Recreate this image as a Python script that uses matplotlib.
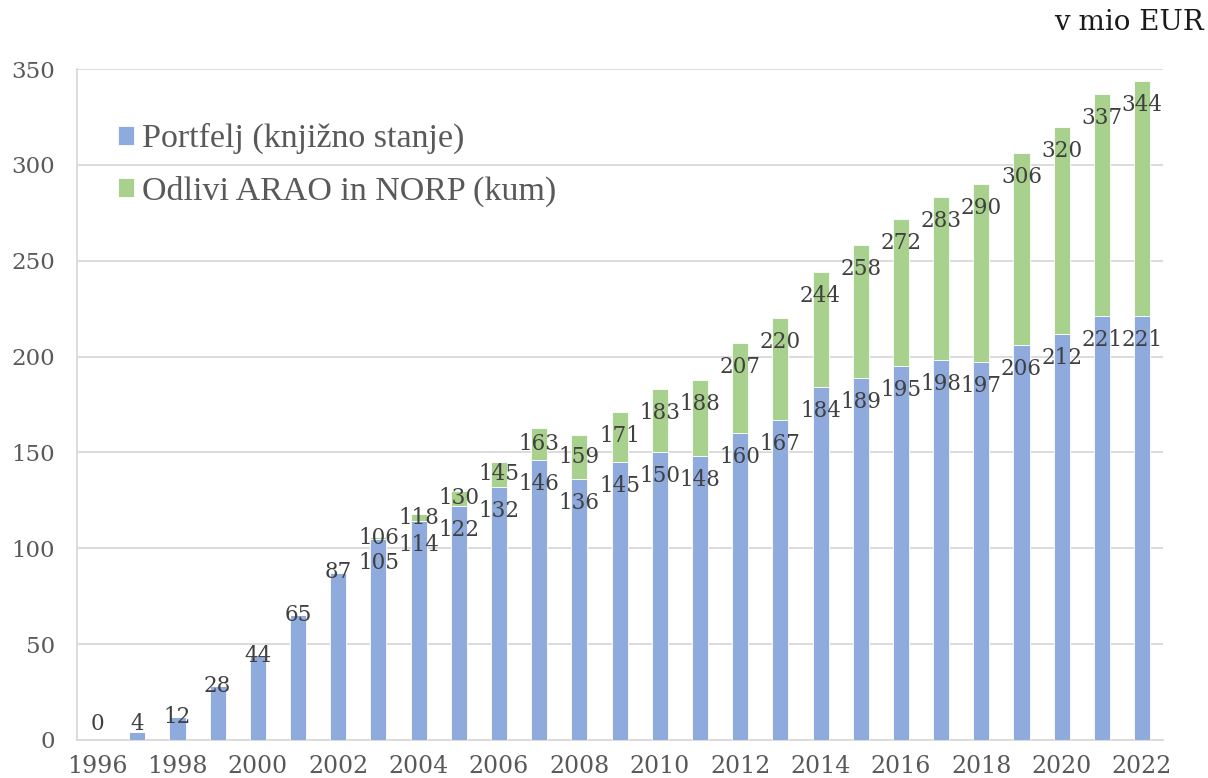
import matplotlib
matplotlib.use("Agg")
import matplotlib.pyplot as plt
import numpy as np

years = list(range(1996, 2023))
portfelj = [0, 4, 12, 28, 44, 65, 87, 105, 114, 122, 132, 146, 136, 145, 150, 148,
            160, 167, 184, 189, 195, 198, 197, 206, 212, 221, 221]
skupaj = [0, 4, 12, 28, 44, 65.3, 87.4, 106, 118, 130, 145, 163, 159, 171, 183, 188,
          207, 220, 244, 258, 272, 283, 290, 306, 320, 337, 344]
odlivi = [t - p for t, p in zip(skupaj, portfelj)]
tick_years = [str(y) for y in range(1996, 2023, 2)]
series_names = ["Portfelj (knjižno stanje)", "Odlivi ARAO in NORP (kum)"]

BLUE = "#8FAADC"
GREEN = "#A9D18E"
GRID = "#D9D9D9"
TXT = "#404040"
TICK = "#595959"

fig = plt.figure(figsize=(12.08, 7.78), dpi=100)
ax = fig.add_axes([77/1208, 1-740/778, (1163-77)/1208, (740-69)/778])

x = np.arange(len(years))
w = 0.40
b1 = ax.bar(x, portfelj, width=w, color=BLUE, edgecolor="white", linewidth=0.6, zorder=3,
            label=series_names[0])
b2 = ax.bar(x, odlivi, width=w, bottom=portfelj, color=GREEN, edgecolor="white", linewidth=0.6,
            zorder=3, label=series_names[1])

ax.set_ylim(0, 350)
ax.set_xlim(-0.5, len(years) - 0.48)
ax.set_yticks(range(0, 351, 50))
ax.yaxis.grid(True, color=GRID, linewidth=1.3, zorder=0)
ax.set_axisbelow(True)
for s in ["top", "right"]:
    ax.spines[s].set_visible(False)
ax.spines["left"].set_color(GRID)
ax.spines["left"].set_linewidth(1.3)
ax.spines["bottom"].set_color(GRID)
ax.spines["bottom"].set_linewidth(1.3)

ax.set_xticks(x[::2])
ax.set_xticklabels(tick_years)
ax.tick_params(axis="both", length=0, labelcolor=TICK)
ax.tick_params(axis="y", pad=16, labelsize=16.5)
ax.tick_params(axis="x", pad=11, labelsize=17)
for lab in ax.get_xticklabels() + ax.get_yticklabels():
    lab.set_family("DejaVu Serif")

# data labels
fig.canvas.draw()
bbox = ax.get_window_extent()
px_per_unit = bbox.height / 350.0
pt_per_px = 72.0 / fig.dpi
inside_px = 24

lab_kw = dict(ha="center", va="center", fontsize=15.5, color=TXT, family="DejaVu Serif",
              textcoords="offset points", zorder=5)
for i in x:
    p = portfelj[i]
    t = skupaj[i]
    if round(t) == round(p):
        top_px = t * px_per_unit
        off_px = max(top_px, 16) - top_px
        ax.annotate(f"{round(t):.0f}", xy=(i, t), xytext=(0, off_px * pt_per_px), **lab_kw)
    else:
        ax.annotate(f"{round(p):.0f}", xy=(i, p), xytext=(0, -inside_px * pt_per_px), **lab_kw)
        seg_px = (t - p) * px_per_unit
        off = min(inside_px, seg_px / 2)
        ax.annotate(f"{round(t):.0f}", xy=(i, t), xytext=(0, -off * pt_per_px), **lab_kw)

leg = fig.legend(handles=[b1, b2], labels=series_names, loc="center left",
                 bbox_to_anchor=(118/1208, 1-165/778), frameon=False,
                 prop={"family": "Liberation Serif", "size": 24.5},
                 handlelength=0.48, handleheight=0.48, handletextpad=0.22,
                 labelspacing=0.62, borderpad=0, borderaxespad=0)
for t in leg.get_texts():
    t.set_color(TICK)

fig.text(1204/1208, 1-22/778, "v mio EUR", ha="right", va="center",
         fontsize=20, family="DejaVu Serif", color="#1a1a1a")

fig.savefig("out.png", dpi=100)
